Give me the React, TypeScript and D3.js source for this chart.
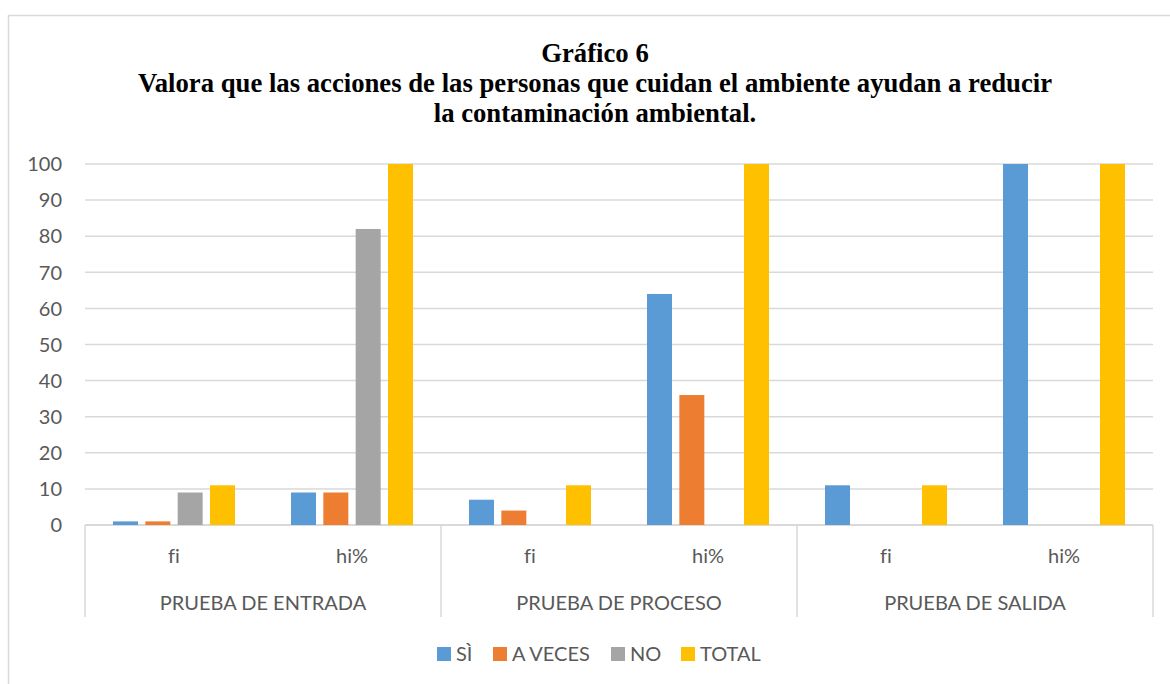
import React from "react";
import * as d3 from "d3";

const groups = ["PRUEBA DE ENTRADA", "PRUEBA DE PROCESO", "PRUEBA DE SALIDA"];
const subCats = ["fi", "hi%"];
const seriesNames = ["SÌ", "A VECES", "NO", "TOTAL"];
const seriesColors = ["#5B9BD5", "#ED7D31", "#A5A5A5", "#FFC000"];
// values per category (group x sub) in order: entrada fi, entrada hi%, proceso fi, proceso hi%, salida fi, salida hi%
const siValues = [1, 9, 7, 64, 11, 100];
const aVecesValues = [1, 9, 4, 36, 0, 0];
const noValues = [9, 82, 0, 0, 0, 0];
const totalValues = [11, 100, 11, 100, 11, 100];
const yTicks = [0, 10, 20, 30, 40, 50, 60, 70, 80, 90, 100];
const titleLines = [
  "Gráfico 6",
  "Valora que las acciones de las personas que cuidan el ambiente ayudan a reducir",
  "la contaminación ambiental.",
];

const W = 1170;
const H = 684;
const plotL = 85;
const plotR = 1153;
const plotT = 164;
const plotB = 525;
const labelFont = "Lato, 'Open Sans', sans-serif";
const gray = "#595959";
const lineColor = "#d9d9d9";
const noLig = { fontVariantLigatures: "none" as const, fontFeatureSettings: "'liga' 0" };

export default function App() {
  const seriesValues = [siValues, aVecesValues, noValues, totalValues];
  const cats: string[] = [];
  groups.forEach((g) => subCats.forEach((s) => cats.push(g + "|" + s)));

  const x0 = d3.scaleBand<string>().domain(cats).range([plotL, plotR]).padding(0);
  const y = d3.scaleLinear().domain([0, 100]).range([plotB, plotT]);
  const groupX = d3.scaleBand<string>().domain(groups).range([plotL, plotR]).padding(0);
  const inner = 122;
  const x1 = d3
    .scaleBand<string>()
    .domain(seriesNames)
    .range([0, inner])
    .paddingInner(0.227)
    .paddingOuter(0);

  const legendItems = [
    { x: 437, tx: 456 },
    { x: 493, tx: 512 },
    { x: 611, tx: 630 },
    { x: 681, tx: 700 },
  ];

  return (
    <svg
      width={W}
      height={H}
      style={{ position: "absolute", left: 0, top: 0, background: "#fff" }}
    >
      <rect x={0} y={0} width={W} height={H} fill="#fff" />
      <rect
        x={8.5}
        y={15.5}
        width={1200}
        height={700}
        fill="#fff"
        stroke={lineColor}
        strokeWidth={1.5}
      />
      {titleLines.map((t, i) => (
        <text
          key={i}
          x={595}
          y={62 + i * 30}
          textAnchor="middle"
          fontFamily="'Liberation Serif', 'Times New Roman', serif"
          fontWeight="bold"
          fontSize={26.7}
          fill="#000"
        >
          {t}
        </text>
      ))}
      {yTicks.map((t) => (
        <g key={t}>
          <line
            x1={plotL}
            x2={plotR}
            y1={y(t)}
            y2={y(t)}
            stroke={lineColor}
            strokeWidth={t === 0 ? 2 : 1.5}
          />
          <text
            x={62}
            y={y(t)}
            dy="0.36em"
            textAnchor="end"
            fontFamily={labelFont}
            fontSize={20}
            fill={gray}
          >
            {t}
          </text>
        </g>
      ))}
      {cats.map((c, ci) => {
        const cx = (x0(c) as number) + x0.bandwidth() / 2;
        const start = cx - inner / 2;
        return (
          <g key={c}>
            {seriesNames.map((s, si) => {
              const v = seriesValues[si][ci];
              if (!v) return null;
              return (
                <rect
                  key={s}
                  x={start + (x1(s) as number)}
                  y={y(v)}
                  width={x1.bandwidth()}
                  height={plotB - y(v)}
                  fill={seriesColors[si]}
                />
              );
            })}
            <text
              x={cx}
              y={563}
              textAnchor="middle"
              fontFamily={labelFont}
              fontSize={20}
              fill={gray}
              style={noLig}
            >
              {c.split("|")[1]}
            </text>
          </g>
        );
      })}
      {groups.map((g) => (
        <text
          key={g}
          x={(groupX(g) as number) + groupX.bandwidth() / 2}
          y={610}
          textAnchor="middle"
          fontFamily={labelFont}
          fontSize={20}
          fill={gray}
        >
          {g}
        </text>
      ))}
      {[...groups.map((g) => groupX(g) as number), plotR].map((xv, i) => (
        <line
          key={i}
          x1={xv}
          x2={xv}
          y1={plotB}
          y2={617}
          stroke={lineColor}
          strokeWidth={1.5}
        />
      ))}
      {seriesNames.map((s, i) => (
        <g key={s}>
          <rect x={legendItems[i].x} y={647} width={14} height={14} fill={seriesColors[i]} />
          <text
            x={legendItems[i].tx}
            y={661}
            fontFamily={labelFont}
            fontSize={20}
            fill={gray}
          >
            {s}
          </text>
        </g>
      ))}
    </svg>
  );
}
